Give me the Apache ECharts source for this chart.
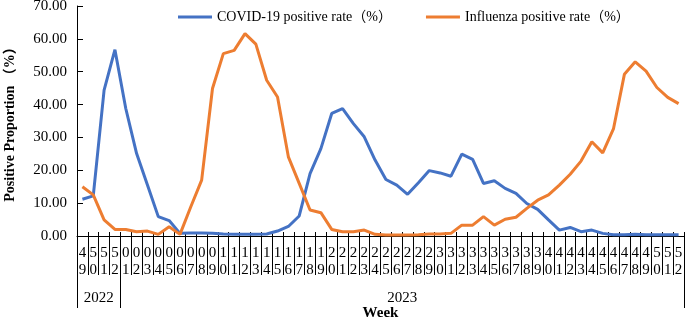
<!DOCTYPE html>
<html>
<head>
<meta charset="utf-8">
<script src="https://cdn.jsdelivr.net/npm/echarts@6/dist/echarts.min.js"></script>
<style>
  html, body { margin: 0; padding: 0; background: #fff; }
  #chart { width: 685px; height: 320px; }
</style>
</head>
<body>
<div id="chart"></div>
<script>
// week labels: 2022 w49-52, then 2023 w01-52
var weeks = ['49','50','51','52',
  '01','02','03','04','05','06','07','08','09','10','11','12','13','14','15','16','17','18','19','20',
  '21','22','23','24','25','26','27','28','29','30','31','32','33','34','35','36','37','38','39','40',
  '41','42','43','44','45','46','47','48','49','50','51','52'];
var years = ['2022', '2023'];
var weeksPerYear = [4, 52];

var covid = [11.2, 12.2, 44.4, 56.7,
  38.8, 25.1, 15.5, 5.9, 4.7, 0.8, 0.9, 0.9, 0.8, 0.6, 0.5, 0.5, 0.5, 0.6, 1.5, 2.9, 6.1, 19.0, 26.6, 37.3,
  38.8, 34.2, 30.2, 23.1, 17.2, 15.5, 12.7, 16.2, 19.9, 19.2, 18.2, 24.9, 23.3, 16.0, 16.8, 14.5, 13.0, 9.9, 8.1, 4.9,
  1.8, 2.6, 1.3, 1.8, 0.8, 0.4, 0.4, 0.5, 0.4, 0.4, 0.4, 0.4];
var flu = [15.0, 12.5, 4.9, 2.0,
  2.0, 1.3, 1.5, 0.5, 2.8, 0.5, 8.9, 17.0, 44.9, 55.5, 56.5, 61.6, 58.4, 47.4, 42.3, 24.1, 16.0, 7.9, 7.1, 2.0,
  1.3, 1.3, 1.8, 0.5, 0.3, 0.3, 0.3, 0.4, 0.6, 0.6, 0.8, 3.3, 3.3, 5.9, 3.3, 5.1, 5.7, 8.4, 10.9, 12.5,
  15.5, 18.8, 22.8, 28.7, 25.3, 32.7, 49.2, 53.0, 50.2, 45.2, 42.2, 40.3];

var yTicks = { min: 0, max: 70, step: 10 };

// year group boundaries and centres (in category units)
var bounds = [0], centres = [];
weeksPerYear.forEach(function (n) {
  var start = bounds[bounds.length - 1];
  centres.push(start + n / 2);
  bounds.push(start + n);
});
var total = bounds[bounds.length - 1];

var font = "'Liberation Serif', 'Times New Roman', 'Noto Sans CJK SC', serif";
var black = '#000';

var myChart = echarts.init(document.getElementById('chart'));
var option = {
  animation: false,
  textStyle: { fontFamily: font, color: black },
  legend: {
    top: 5,
    left: 173,
    itemGap: 34,
    itemWidth: 34,
    itemHeight: 3,
    icon: 'rect',
    textStyle: { fontFamily: font, fontSize: 14, color: black },
    data: ['COVID-19 positive rate（%）', 'Influenza positive rate（%）']
  },
  grid: { left: 77, right: 1, top: 6, bottom: 84, containLabel: false, outerBoundsMode: 'none' },
  xAxis: [
    {
      type: 'category',
      data: weeks,
      position: 'bottom',
      boundaryGap: true,
      axisLine: { lineStyle: { color: black, width: 1 } },
      axisTick: { show: true, interval: 0, length: 39, lineStyle: { color: black } },
      axisLabel: {
        interval: 0,
        margin: 9,
        fontSize: 15,
        lineHeight: 17,
        color: black,
        fontFamily: font,
        formatter: function (v) { return v.split('').join('\n'); }
      }
    },
    {
      type: 'category',
      data: weeks,
      position: 'bottom',
      boundaryGap: true,
      axisLine: { show: false },
      axisTick: { show: true, inside: true, interval: 0, length: 4, lineStyle: { color: black } },
      axisLabel: { show: false }
    },
    {
      type: 'value',
      min: 0,
      max: total,
      position: 'bottom',
      axisLine: { show: false },
      splitLine: { show: false },
      axisTick: { show: true, length: 72, customValues: bounds, lineStyle: { color: black } },
      axisLabel: {
        customValues: centres,
        margin: 55,
        fontSize: 15,
        color: black,
        fontFamily: font,
        formatter: function (v) { return years[centres.indexOf(v)] || ''; }
      },
      name: 'Week',
      nameLocation: 'middle',
      nameGap: 70,
      nameMoveOverlap: false,
      nameTextStyle: { fontFamily: font, fontSize: 15, fontWeight: 'bold', color: black }
    }
  ],
  yAxis: {
    type: 'value',
    min: yTicks.min,
    max: yTicks.max,
    interval: yTicks.step,
    axisLine: { show: true, lineStyle: { color: black, width: 1 } },
    axisTick: { show: true, inside: true, length: 6, lineStyle: { color: black } },
    splitLine: { show: false },
    axisLabel: {
      margin: 10,
      fontSize: 15,
      color: black,
      fontFamily: font,
      formatter: function (v) { return v.toFixed(2); }
    },
    name: 'Positive Proportion （%）',
    nameLocation: 'middle',
    nameGap: 60,
    nameMoveOverlap: false,
    nameTextStyle: { fontFamily: font, fontSize: 14, fontWeight: 'bold', color: black }
  },
  series: [
    {
      name: 'COVID-19 positive rate（%）',
      type: 'line',
      xAxisIndex: 0,
      data: covid,
      symbol: 'none',
      itemStyle: { color: '#4472C4' },
      lineStyle: { color: '#4472C4', width: 3 }
    },
    {
      name: 'Influenza positive rate（%）',
      type: 'line',
      xAxisIndex: 0,
      data: flu,
      symbol: 'none',
      itemStyle: { color: '#ED7D31' },
      lineStyle: { color: '#ED7D31', width: 3 }
    }
  ]
};
myChart.setOption(option);
</script>
</body>
</html>
